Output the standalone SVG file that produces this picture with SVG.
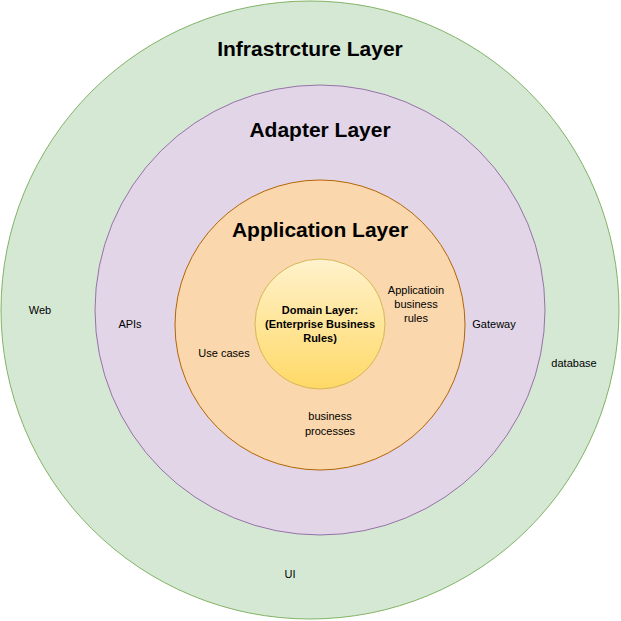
<svg xmlns="http://www.w3.org/2000/svg" width="621" height="621" viewBox="0 0 621 621">
<style>
text{font-family:Helvetica,"Liberation Sans",Arial,sans-serif;fill:#000;text-anchor:middle}
.t{font-size:21px;font-weight:bold}
.s{font-size:11px}
.d{font-size:11px;font-weight:bold}
</style>
<defs><linearGradient id="g" x1="0" y1="0" x2="0" y2="1"><stop offset="0" stop-color="#fff2cc"/><stop offset="1" stop-color="#ffd966"/></linearGradient></defs>
<g id="infra"><circle cx="310" cy="310" r="309" fill="#d5e8d4" stroke="#82b366"/>
<text class="t" x="310" y="56">Infrastrcture Layer</text>
<text class="s" x="40" y="314">Web</text><text class="s" x="574" y="367">database</text><text class="s" x="290" y="578">UI</text></g>
<g id="adapter"><circle cx="320" cy="310" r="225" fill="#e1d5e7" stroke="#9673a6"/>
<text class="t" x="320" y="137">Adapter Layer</text>
<text class="s" x="130" y="328">APIs</text><text class="s" x="494" y="328">Gateway</text></g>
<g id="application"><circle cx="320" cy="325" r="145" fill="#fad7ac" stroke="#b46504"/>
<text class="t" x="320" y="237">Application Layer</text>
<text class="s" x="224" y="357">Use cases</text>
<text class="s" x="416" y="294">Applicatioin</text><text class="s" x="416" y="308">business</text><text class="s" x="416" y="322">rules</text>
<text class="s" x="330" y="420">business</text><text class="s" x="330" y="435">processes</text></g>
<g id="domain"><circle cx="320" cy="324" r="65" fill="url(#g)" stroke="#d6b656"/>
<text class="d" x="320" y="314">Domain Layer:</text><text class="d" x="320" y="328">(Enterprise Business</text><text class="d" x="320" y="342">Rules)</text></g>
<g id="connectors"/>
</svg>
